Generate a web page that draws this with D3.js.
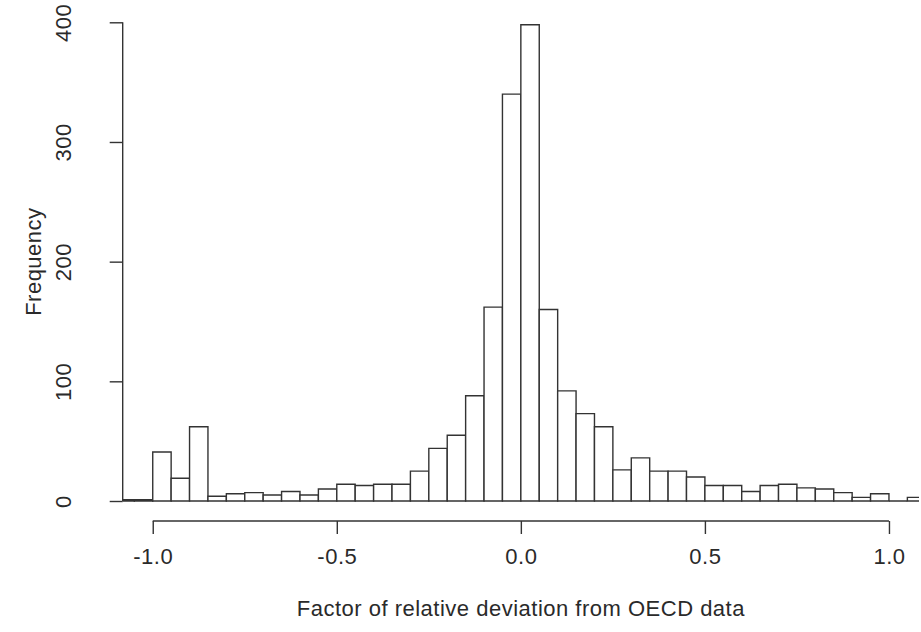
<!DOCTYPE html>
<html>
<head>
<meta charset="utf-8">
<script src="https://cdn.jsdelivr.net/npm/d3@7"></script>
<style>
  body { margin: 0; background: #fff; }
  svg text { font-family: "Liberation Sans", Arial, sans-serif; fill: #2a2a2a; letter-spacing: 0.5px; }
</style>
</head>
<body>
<script>
// histogram bins: left edges, width 0.05
var binStarts = [-1.10, -1.05, -1.00, -0.95, -0.90, -0.85, -0.80, -0.75, -0.70, -0.65,
                 -0.60, -0.55, -0.50, -0.45, -0.40, -0.35, -0.30, -0.25, -0.20, -0.15,
                 -0.10, -0.05, 0.00, 0.05, 0.10, 0.15, 0.20, 0.25, 0.30, 0.35,
                 0.40, 0.45, 0.50, 0.55, 0.60, 0.65, 0.70, 0.75, 0.80, 0.85,
                 0.90, 0.95, 1.00, 1.05];
var counts = [1, 1, 41, 19, 62, 4, 6, 7, 5, 8,
              5, 10, 14, 13, 14, 14, 25, 44, 55, 88,
              162, 340, 398, 160, 92, 73, 62, 26, 36, 25,
              25, 20, 13, 13, 8, 13, 14, 11, 10, 7,
              3, 6, 0, 3];
var binWidth = 0.05;
var xTicks = [-1.0, -0.5, 0.0, 0.5, 1.0];
var yTicks = [0, 100, 200, 300, 400];

var bins = binStarts.map((s, i) => ({x0: s, x1: s + binWidth, count: counts[i]}));

var W = 921, H = 632,
    plot = {left: 122.7, right: 919, top: 22.3, bottom: 501};

var svg = d3.select("body").append("svg")
    .attr("width", W)
    .attr("height", H);

var x = d3.scaleLinear().domain([-1.0816, 1.0816]).range([plot.left, plot.right]),
    y = d3.scaleLinear().domain([0, 400]).range([plot.bottom, plot.top]);

svg.append("clipPath").attr("id", "plotclip")
  .append("rect")
    .attr("x", plot.left).attr("y", 0)
    .attr("width", plot.right - plot.left).attr("height", plot.bottom + 2);

// bars (as paths so zero counts still show a baseline)
svg.append("g")
    .attr("clip-path", "url(#plotclip)")
    .selectAll("path")
    .data(bins)
    .enter()
    .append("path")
    .attr("d", d => `M${x(d.x0)},${y(0)}V${y(d.count)}H${x(d.x1)}V${y(0)}Z`)
    .attr("fill", "#fff")
    .attr("stroke", "#333")
    .attr("stroke-width", 1.4);

var fontSize = 22;

// x axis, R style: offset below plot, line only between end ticks
var gx = svg.append("g")
    .attr("transform", `translate(0, 521)`)
    .call(d3.axisBottom(x).tickValues(xTicks).tickSize(13).tickFormat(d3.format(".1f")));
gx.select(".domain").remove();
gx.append("line")
    .attr("x1", x(xTicks[0])).attr("x2", x(xTicks[xTicks.length - 1]))
    .attr("stroke", "#333").attr("stroke-width", 1.4);
gx.selectAll(".tick line").attr("stroke", "#333").attr("stroke-width", 1.4);
gx.selectAll(".tick text")
    .attr("y", 43).attr("dy", null)
    .style("font-size", fontSize + "px")
    .text(d => d3.format(".1f")(d).replace("−", "-"));

// y axis
var gy = svg.append("g")
    .attr("transform", `translate(${plot.left}, 0)`)
    .call(d3.axisLeft(y).tickValues(yTicks).tickSize(13));
gy.select(".domain").remove();
gy.append("line")
    .attr("y1", y(0)).attr("y2", y(400))
    .attr("stroke", "#333").attr("stroke-width", 1.4);
gy.selectAll(".tick line").attr("stroke", "#333").attr("stroke-width", 1.4);
gy.selectAll(".tick text")
    .attr("x", null).attr("dy", null)
    .attr("text-anchor", "middle")
    .attr("transform", "translate(-51.7, 0) rotate(-90)")
    .style("font-size", fontSize + "px");

// axis titles
svg.append("text")
    .attr("x", x(0)).attr("y", 616)
    .attr("text-anchor", "middle")
    .style("font-size", fontSize + "px")
    .text("Factor of relative deviation from OECD data");

svg.append("text")
    .attr("transform", `translate(41, ${(plot.top + plot.bottom) / 2}) rotate(-90)`)
    .attr("text-anchor", "middle")
    .style("font-size", fontSize + "px")
    .text("Frequency");
</script>
</body>
</html>
